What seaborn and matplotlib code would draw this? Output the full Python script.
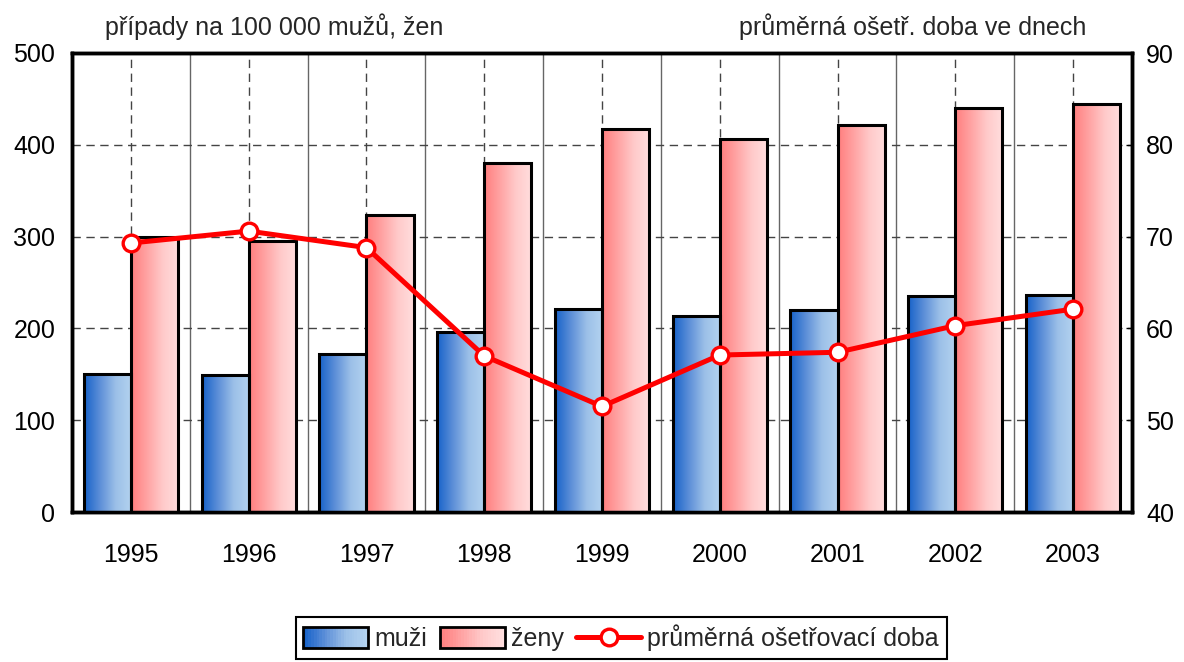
import numpy as np
import pandas as pd
import matplotlib
matplotlib.use("Agg")
import matplotlib.pyplot as plt
import seaborn as sns
from matplotlib.colors import LinearSegmentedColormap
from matplotlib.patches import Rectangle
from matplotlib.lines import Line2D
from matplotlib.legend_handler import HandlerBase

years = ["1995", "1996", "1997", "1998", "1999", "2000", "2001", "2002", "2003"]
muzi = [150, 149, 172, 196, 221, 213, 220, 235, 236]
zeny = [300, 295, 323, 380, 417, 406, 422, 440, 444]
doba = [69.3, 70.6, 68.8, 57.0, 51.5, 57.1, 57.4, 60.3, 62.1]

left_ticks = [0, 100, 200, 300, 400, 500]
right_ticks = [40, 50, 60, 70, 80, 90]

blue_grad = ["#1662c9", "#5d8fd8", "#9cc0e8", "#b4d3f0"]
red_grad = ["#ff7e7e", "#ffa3a3", "#ffcaca", "#ffdede"]

sns.set_theme(style="white")
plt.rcParams["font.family"] = ["Liberation Sans Narrow", "Liberation Sans", "DejaVu Sans"]
FS = 18

fig = plt.figure(figsize=(11.84, 6.62), dpi=100)
ax = fig.add_axes([72 / 1184, 1 - 512 / 662, (1132 - 72) / 1184, (512 - 53) / 662])

df = pd.DataFrame({
    "rok": years * 2,
    "hodnota": muzi + zeny,
    "pohlavi": ["muži"] * len(years) + ["ženy"] * len(years),
})
sns.barplot(data=df, x="rok", y="hodnota", hue="pohlavi", ax=ax, width=0.8,
            legend=False, edgecolor="black", linewidth=2.2,
            palette=["#6fa0dd", "#ffb0b0"], saturation=1, zorder=3)

cmap_b = LinearSegmentedColormap.from_list("b", blue_grad)
cmap_r = LinearSegmentedColormap.from_list("r", red_grad)
grad = np.linspace(0, 1, 256).reshape(1, -1)
bars = [p for p in ax.patches if isinstance(p, Rectangle)]
n = len(years)
for i, p in enumerate(bars):
    cmap = cmap_b if i < n else cmap_r
    x0, w = p.get_x(), p.get_width()
    y0, h = p.get_y(), p.get_height()
    ax.imshow(grad, cmap=cmap, extent=[x0, x0 + w, y0, y0 + h], aspect="auto",
              zorder=2.9, interpolation="bilinear")
    p.set_facecolor("none")
    p.set_zorder(3)

ax.set_xlim(-0.5, len(years) - 0.5)
ax.set_ylim(0, 500)
ax.set_yticks(left_ticks)
ax.set_xticks(range(len(years)))
ax.set_xticklabels(years)
ax.set_xticks(np.arange(0.5, len(years) - 0.5, 1), minor=True)
ax.set_xlabel("")
ax.set_ylabel("")
ax.set_axisbelow(True)
ax.yaxis.grid(True, linestyle=(0, (6, 4)), color="#444444", linewidth=1, zorder=0)
ax.xaxis.grid(True, which="major", linestyle=(0, (6, 4)), color="#444444", linewidth=1, zorder=0)
ax.xaxis.grid(True, which="minor", linestyle="-", color="#666666", linewidth=1, zorder=0)
ax.tick_params(axis="both", which="both", length=0, labelsize=FS, colors="black")
ax.tick_params(axis="y", pad=12)
ax.tick_params(axis="x", pad=22)
for s in ax.spines.values():
    s.set_color("black")
    s.set_linewidth(2.5)

ax2 = ax.twinx()
sns.lineplot(x=np.arange(len(years)), y=doba, ax=ax2, color="#ff0000", linewidth=3.6,
             marker="o", markersize=12, markerfacecolor="white",
             markeredgecolor="#ff0000", markeredgewidth=2.4, zorder=5)
ax2.set_ylim(40, 90)
ax2.set_yticks(right_ticks)
ax2.set_ylabel("")
ax2.tick_params(axis="y", direction="in", length=4, width=1, labelsize=FS, pad=10, colors="black")
for s in ax2.spines.values():
    s.set_color("black")
    s.set_linewidth(2.5)
ax2.grid(False)

fig.text(105 / 1184, 1 - 27 / 662, "případy na 100 000 mužů, žen", ha="left", va="center", fontsize=FS)
fig.text(1086 / 1184, 1 - 27 / 662, "průměrná ošetř. doba ve dnech", ha="right", va="center", fontsize=FS)


class GradHandler(HandlerBase):
    def __init__(self, cmap):
        super().__init__()
        self.cmap = cmap

    def create_artists(self, legend, orig_handle, xdescent, ydescent, width, height, fontsize, trans):
        arts = []
        k = 24
        for j in range(k):
            arts.append(Rectangle((-xdescent + width * j / k, -ydescent), width / k + 0.3, height,
                                  facecolor=self.cmap(j / (k - 1)), edgecolor="none", transform=trans))
        arts.append(Rectangle((-xdescent, -ydescent), width, height, facecolor="none",
                              edgecolor="black", linewidth=2, transform=trans))
        return arts


h_m = Rectangle((0, 0), 1, 1)
h_z = Rectangle((0, 0), 1, 1)
h_d = Line2D([], [], color="#ff0000", linewidth=3.6, marker="o", markersize=12,
             markerfacecolor="white", markeredgecolor="#ff0000", markeredgewidth=2.4)
leg = fig.legend([h_m, h_z, h_d], ["muži", "ženy", "průměrná ošetřovací doba"],
                 handler_map={h_m: GradHandler(cmap_b), h_z: GradHandler(cmap_r)},
                 loc="upper center", bbox_to_anchor=(621 / 1184, 1 - 617 / 662), ncol=3,
                 frameon=True, fancybox=False, edgecolor="black", fontsize=FS,
                 handlelength=2.6, handleheight=0.95, columnspacing=0.5,
                 handletextpad=0.25, borderpad=0.3, borderaxespad=0)
leg.get_frame().set_linewidth(1.5)
leg.get_frame().set_alpha(None)

fig.savefig("out.png", dpi=100)
